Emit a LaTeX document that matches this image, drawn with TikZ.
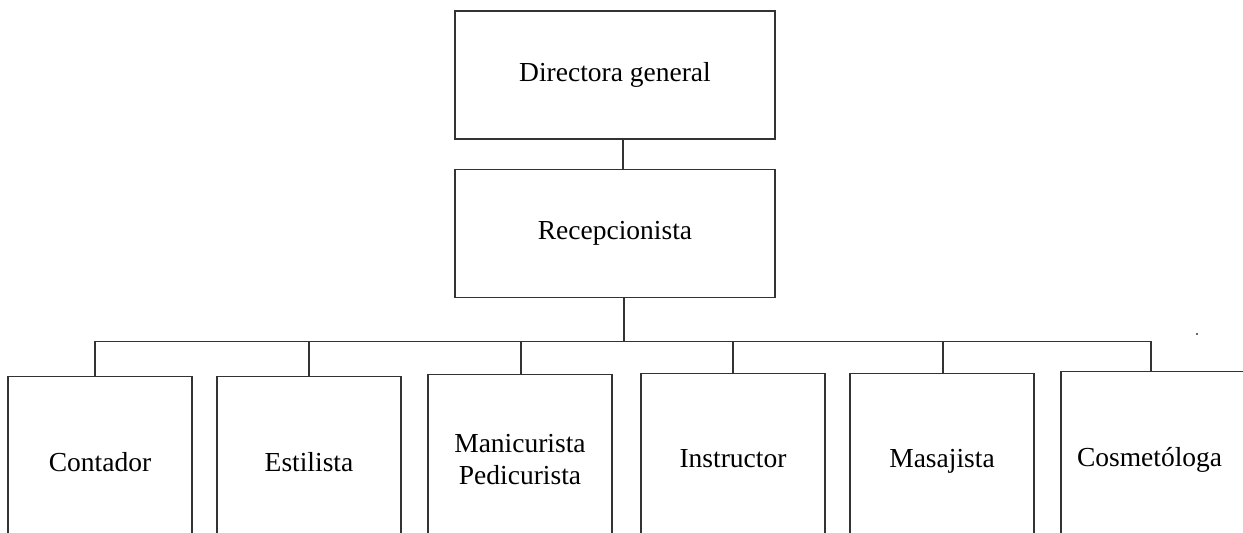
\documentclass[tikz,border=0pt]{standalone}
\usepackage{fontspec}
\setmainfont{Liberation Serif}
\begin{document}
\begin{tikzpicture}[x=1pt,y=-1pt,line width=1.4pt,
    puesto/.style={draw=black!80, minimum width=320pt, minimum height=128pt,
      font=\fontsize{27.5}{32}\selectfont},
    area/.style={draw=black!80, anchor=north, minimum width=184pt, minimum height=172pt,
      align=center, text depth=0.22em, font=\fontsize{27.5}{32}\selectfont}]
  \clip (0,0) rectangle (1243,533);
  \node[puesto] (dir) at (615,75) {Directora general};
  \node[puesto] (recep) at (615,233.5) {Recepcionista};
  \draw[black!80] ([xshift=8pt]dir.south) -- ([xshift=8pt]recep.north);
  \draw[black!80] ([xshift=9pt]recep.south) -- ++(0,43) coordinate (bus);
  \foreach \x/\y/\d/\txt [count=\n] in {
        100/376/-5/Contador,
        309/376/0/Estilista,
        520/374/1/{Manicurista\\Pedicurista},
        733/373/0/Instructor,
        942/373/1/Masajista,
        1153/371/-2/Cosmetóloga
  } {
       \node[area] (b\n) at (\x,\y) {\txt};
       \coordinate (d\n) at ([xshift=\d pt]b\n.north);
       \draw[black!80] (d\n) -- (d\n |- bus);
  }
  \draw[black!80] (d1 |- bus) -- (d6 |- bus);
  \fill[black!80] (1197,334) circle (1.1pt);
\end{tikzpicture}
\end{document}
